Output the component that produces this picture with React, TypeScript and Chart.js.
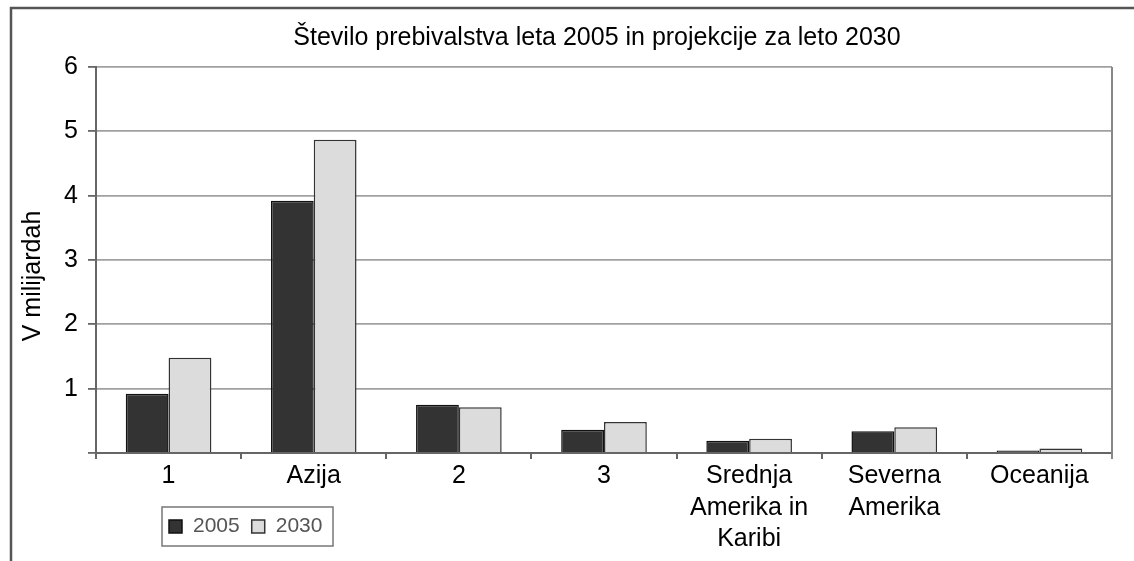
import React, { useEffect, useRef } from "react";
import { Chart, registerables } from "chart.js";

Chart.register(...registerables);

const categories: (string | string[])[] = [
  "1",
  "Azija",
  "2",
  "3",
  ["Srednja", "Amerika in", "Karibi"],
  ["Severna", "Amerika"],
  "Oceanija",
];
const seriesLabels = ["2005", "2030"];
const values2005 = [0.92, 3.92, 0.75, 0.36, 0.19, 0.34, 0.04];
const values2030 = [1.48, 4.87, 0.71, 0.48, 0.22, 0.4, 0.07];
const yTicks = [0, 1, 2, 3, 4, 5, 6];
const chartTitle = "Število prebivalstva leta 2005 in projekcije za leto 2030";
const yTitle = "V milijardah";

const FONT = "Arial, 'Liberation Sans', sans-serif";

const decorPlugin = {
  id: "decor",
  beforeDraw(chart: any) {
    const ctx = chart.ctx;
    ctx.save();
    ctx.fillStyle = "#ffffff";
    ctx.fillRect(0, 0, chart.width, chart.height);
    ctx.strokeStyle = "#555555";
    ctx.lineWidth = 2.5;
    ctx.beginPath();
    ctx.moveTo(11, chart.height);
    ctx.lineTo(11, 8);
    ctx.lineTo(chart.width, 8);
    ctx.stroke();
    ctx.restore();
  },
  afterDraw(chart: any) {
    const ctx = chart.ctx;
    const a = chart.chartArea;
    ctx.save();
    // plot right border
    ctx.strokeStyle = "#888888";
    ctx.lineWidth = 2;
    ctx.beginPath();
    ctx.moveTo(a.right, a.top);
    ctx.lineTo(a.right, a.bottom + 6);
    ctx.stroke();
    // title
    ctx.fillStyle = "#000";
    ctx.font = `25px ${FONT}`;
    ctx.textAlign = "center";
    ctx.textBaseline = "middle";
    ctx.fillText(chartTitle, 597, 38);
    // y title
    ctx.save();
    ctx.translate(33, 276);
    ctx.rotate(-Math.PI / 2);
    ctx.fillText(yTitle, 0, 0);
    ctx.restore();
    // legend
    const lx = 162, ly = 507, lw = 171, lh = 39;
    ctx.strokeStyle = "#777";
    ctx.lineWidth = 1.5;
    ctx.strokeRect(lx, ly, lw, lh);
    ctx.font = `21px ${FONT}`;
    ctx.textAlign = "left";
    let x = lx + 7;
    chart.data.datasets.forEach((ds: any) => {
      ctx.fillStyle = ds.backgroundColor;
      ctx.fillRect(x, ly + 13, 13, 13);
      ctx.strokeStyle = ds.borderColor;
      ctx.lineWidth = 1.5;
      ctx.strokeRect(x, ly + 13, 13, 13);
      ctx.fillStyle = "#555";
      ctx.fillText(ds.label, x + 24, ly + 19);
      x += 24 + ctx.measureText(ds.label).width + 12;
    });
    ctx.restore();
  },
};

export default function App() {
  const ref = useRef<HTMLCanvasElement>(null);
  useEffect(() => {
    if (!ref.current) return;
    const chart = new Chart(ref.current, {
      type: "bar",
      data: {
        labels: categories,
        datasets: [
          {
            label: seriesLabels[0],
            data: values2005,
            backgroundColor: "#333333",
            borderColor: "#111111",
            borderWidth: 1.5,
            categoryPercentage: 0.59,
            barPercentage: 1,
          },
          {
            label: seriesLabels[1],
            data: values2030,
            backgroundColor: "#dcdcdc",
            borderColor: "#333333",
            borderWidth: 1.5,
            categoryPercentage: 0.59,
            barPercentage: 1,
          },
        ],
      },
      options: {
        responsive: false,
        animation: false,
        devicePixelRatio: 1,
        layout: { padding: { left: 10, right: 22, top: 67, bottom: 0 } },
        plugins: {
          legend: { display: false },
          title: { display: false },
          tooltip: { enabled: false },
        },
        scales: {
          x: {
            afterFit(scale: any) {
              scale.height = 108;
            },
            grid: {
              drawOnChartArea: false,
              drawTicks: true,
              tickLength: 6,
              color: "#666",
              lineWidth: 2,
              offset: true,
            },
            border: { color: "#666", width: 2 },
            ticks: {
              color: "#000",
              font: { family: FONT, size: 25, lineHeight: 1.27 },
              padding: 1,
              maxRotation: 0,
              autoSkip: false,
            },
          },
          y: {
            min: 0,
            max: 6,
            afterFit(scale: any) {
              scale.width = 86;
            },
            afterBuildTicks(scale: any) {
              scale.ticks = yTicks.map((v) => ({ value: v }));
            },
            ticks: {
              stepSize: 1,
              color: "#000",
              font: { family: FONT, size: 25 },
              padding: 10,
              callback: (v: any) => (v === 0 ? "" : String(v)),
            },
            grid: {
              color: "#a0a0a0",
              lineWidth: 1.8,
              tickLength: 8,
              tickColor: "#666",
            },
            border: { color: "#666", width: 2 },
          },
        },
      },
      plugins: [decorPlugin],
    });
    return () => chart.destroy();
  }, []);
  return (
    <div style={{ position: "fixed", left: 0, top: 0, width: 1134, height: 561, background: "#fff" }}>
      <canvas ref={ref} width={1134} height={561} style={{ display: "block" }} />
    </div>
  );
}
